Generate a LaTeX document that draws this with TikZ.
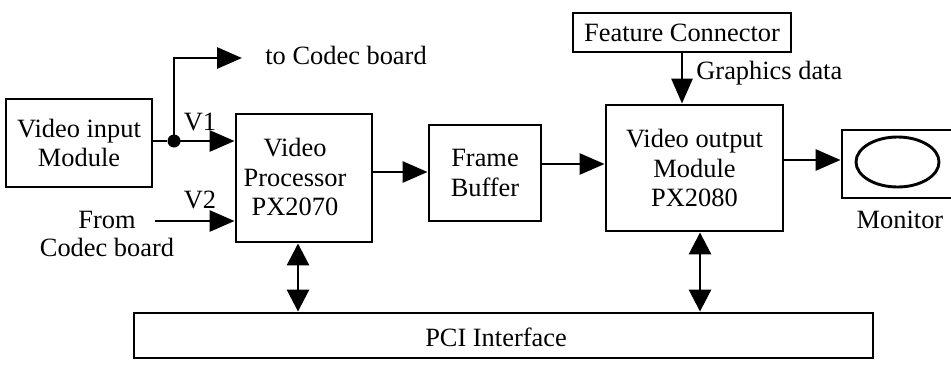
\documentclass[tikz,border=0pt]{standalone}
\usepackage{fontspec}
\setmainfont{Liberation Serif}
\usetikzlibrary{arrows.meta,shapes.geometric}
\tikzset{
  lw/.style={line width=1.45pt},
  blk/.style={draw, lw, inner sep=0pt, align=center, font=\fontsize{13.2pt}{14.6pt}\selectfont},
  txt/.style={inner sep=0pt, align=center, font=\fontsize{13.2pt}{14pt}\selectfont},
  arr/.style={lw, -{Triangle[length=12.5pt,width=10.5pt]}},
  darr/.style={lw, {Triangle[length=11pt,width=11pt]}-{Triangle[length=11pt,width=11pt]}}
}
\begin{document}
\begin{tikzpicture}[x=0.5pt,y=-0.5pt]
\useasboundingbox (0,0) rectangle (951,364);
% blocks
\node[blk, minimum width=73pt, minimum height=44pt] (vim) at (79,143) {Video input\\Module};
\node[blk, minimum width=68pt, minimum height=64pt] (vp) at (304,178) {};
\node[txt, font=\fontsize{13.2pt}{14.6pt}\selectfont] (vptxt) at (295,177) {Video\\Processor\\PX2070};
\node[blk, minimum width=56pt, minimum height=48pt] (fb) at (485,173) {Frame\\Buffer};
\node[blk, minimum width=88.5pt, minimum height=63pt] (vo) at (694.5,168) {Video output\\Module\\PX2080};
\node[blk, minimum width=109pt, minimum height=19.5pt] (fc) at (682,32.5) {Feature Connector};
\node[blk, minimum width=56.5pt, minimum height=34pt] (mon) at (898.5,164) {};
\node[draw, lw, ellipse, inner sep=0pt, minimum width=41.5pt, minimum height=25pt] (scr) at (897.5,162) {};
\node[blk, minimum width=369.5pt, minimum height=22.5pt] (pci) at (503.5,335.5) {};
\node[txt] (pcitxt) at (496,337) {PCI Interface};
% junction
\node[circle, fill, inner sep=0pt, minimum size=6.5pt] (dot) at (174,141) {};
% labels
\node[txt] (v1) at (200,122) {V1};
\node[txt] (v2) at (200,200) {V2};
\node[txt, anchor=west] (tocodec) at (265,55) {to Codec board};
\node[txt] (from) at (107,234) {From\\Codec board};
\node[txt, anchor=west] (gd) at (696,73) {Graphics data};
\node[txt] (monlbl) at (900,220) {Monitor};
% helper coordinates
\coordinate (tcend) at (242,58);
\coordinate (v2s) at (155,221);
\coordinate (y172) at (0,172);
\coordinate (y164) at (0,164);
\coordinate (y160) at (0,160);
\coordinate (x298) at (298,0);
\coordinate (x700) at (700,0);
% connectors
\draw[lw] (vim.east |- dot) -- (dot);
\draw[arr] (dot.center) -- (vp.west |- dot);
\draw[arr] (dot.center) |- (tcend);
\draw[arr] (v2s) -- (vp.west |- v2s);
\draw[arr] (vp.east |- y172) -- (fb.west |- y172);
\draw[arr] (fb.east |- y164) -- (vo.west |- y164);
\draw[arr] (vo.east |- y160) -- (mon.west |- y160);
\draw[arr] (fc.south) -- (fc.south |- vo.north);
\draw[darr] (vp.south -| x298) -- (pci.north -| x298);
\draw[darr] (vo.south -| x700) -- (pci.north -| x700);
\end{tikzpicture}
\end{document}
